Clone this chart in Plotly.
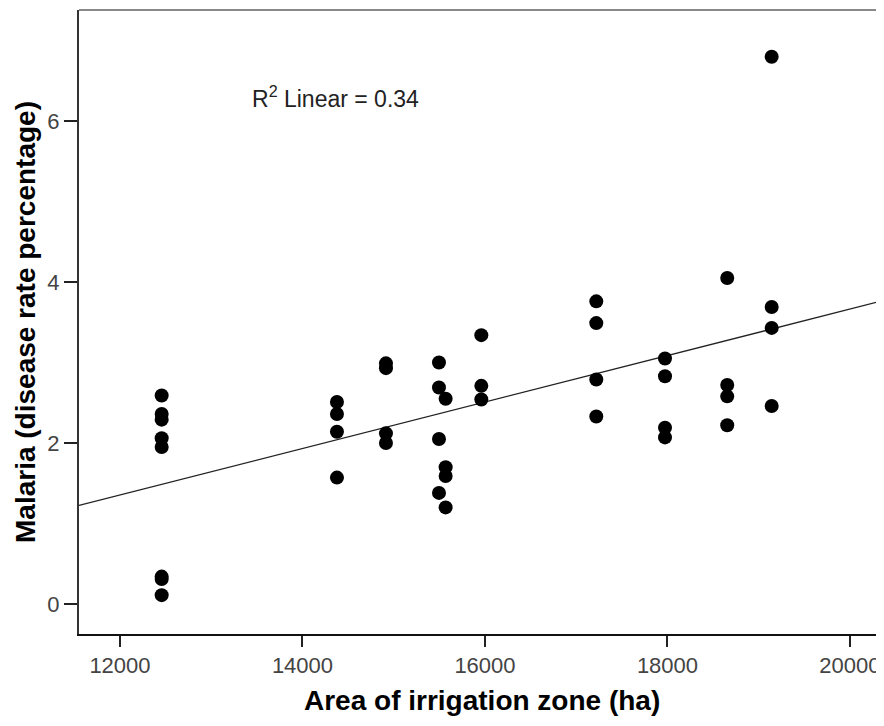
import numpy as np
import plotly.graph_objects as go

# Area of irrigation zone (ha)
area = [12457, 12457, 12457, 12457, 12457, 12457, 12457, 12457,
        14378, 14378, 14378, 14378,
        14915, 14915, 14915, 14915,
        15496, 15496, 15496, 15496,
        15569, 15569, 15569, 15569,
        15960, 15960, 15960,
        17220, 17220, 17220, 17220,
        17973, 17973, 17973, 17973,
        18655, 18655, 18655, 18655,
        19142, 19142, 19142, 19142]
# Malaria (disease rate percentage)
malaria = [2.59, 2.36, 2.29, 2.06, 1.95, 0.34, 0.31, 0.11,
           2.51, 2.36, 2.14, 1.57,
           2.99, 2.93, 2.12, 2.00,
           3.00, 2.69, 2.05, 1.38,
           2.55, 1.70, 1.59, 1.20,
           3.34, 2.71, 2.54,
           3.76, 3.49, 2.79, 2.33,
           3.05, 2.83, 2.19, 2.07,
           4.05, 2.72, 2.58, 2.22,
           6.80, 3.69, 3.43, 2.46]

x_ticks = [12000, 14000, 16000, 18000, 20000]
y_ticks = [0, 2, 4, 6]
x_range = [11551, 20373]
y_range = [-0.373, 7.38]
r2_label = "R<sup>2</sup> Linear = 0.34"

slope, intercept = np.polyfit(area, malaria, 1)
fit_x = np.array(x_range)
fit_y = slope * fit_x + intercept

fig = go.Figure()
fig.add_trace(go.Scatter(x=fit_x, y=fit_y, mode="lines",
                         line=dict(color="#222222", width=1.3),
                         hoverinfo="skip", showlegend=False))
fig.add_trace(go.Scatter(x=area, y=malaria, mode="markers",
                         marker=dict(color="black", size=14, line=dict(width=0)),
                         showlegend=False))

tick_font = dict(family="Liberation Sans, Arial, sans-serif", size=22, color="#444444")
fig.update_layout(
    width=876, height=718,
    margin=dict(l=71, r=0, t=2, b=92),
    paper_bgcolor="white", plot_bgcolor="white",
    xaxis=dict(range=x_range, tickvals=x_ticks, tickformat="d",
               showgrid=False, zeroline=False,
               showline=True, linecolor="#111111", linewidth=2,
               ticks="outside", ticklen=11, tickwidth=2, tickcolor="#222222",
               tickfont=tick_font),
    yaxis=dict(range=y_range, tickvals=y_ticks,
               showgrid=False, zeroline=False,
               showline=True, linecolor="#333333", linewidth=2,
               ticks="outside", ticklen=13, tickwidth=2, tickcolor="#222222",
               tickfont=tick_font),
    shapes=[dict(type="line", xref="paper", yref="paper", x0=0, x1=1, y0=1, y1=1,
                 line=dict(color="#888888", width=2))],
    annotations=[
        dict(text=r2_label, xref="paper", yref="paper", x=(250 - 79) / 805, y=(634 - 97) / 624,
             xanchor="left", yanchor="middle", showarrow=False,
             font=dict(family="Liberation Sans, Arial, sans-serif", size=23, color="#222222")),
        dict(text="<b>Area of irrigation zone (ha)</b>", xref="paper", yref="paper",
             x=0.5, y=(634 - 700) / 624, xanchor="center", yanchor="middle", showarrow=False,
             font=dict(family="Liberation Sans, Arial, sans-serif", size=28, color="black")),
        dict(text="<b>Malaria (disease rate percentage)</b>", xref="paper", yref="paper",
             x=(25 - 79) / 805, y=(634 - 322) / 624, xanchor="center", yanchor="middle",
             textangle=-90, showarrow=False,
             font=dict(family="Liberation Sans, Arial, sans-serif", size=28, color="black")),
    ],
)

fig.write_html("out.html")
